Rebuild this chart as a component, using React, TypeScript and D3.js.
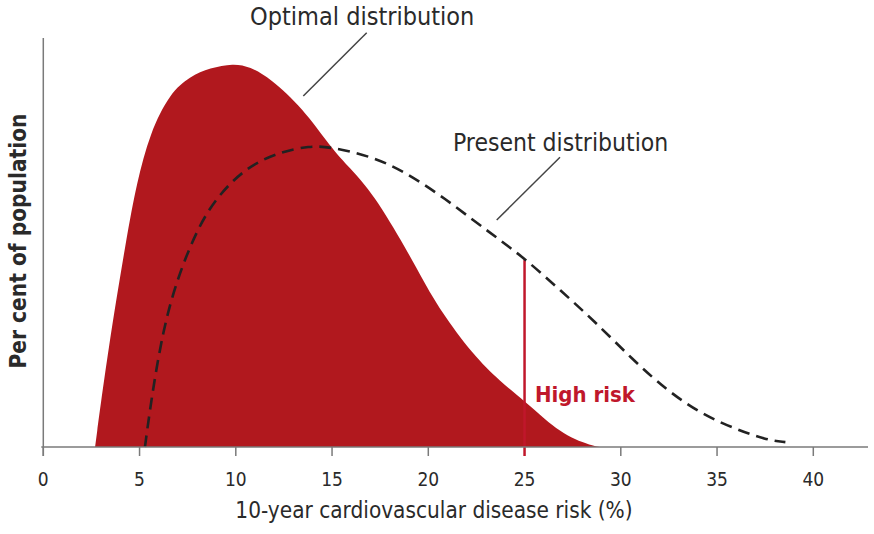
import React from "react";
import * as d3 from "d3";

const xTicks = [0, 5, 10, 15, 20, 25, 30, 35, 40];

// Optimal distribution (filled red)
const optimalX = [2.69, 3.36, 4.33, 4.85, 5.54, 6.58, 7.62, 8.66, 9.87, 10.74, 11.78, 13.49, 14.92, 15.93, 17.13, 18.88, 19.72, 20.61, 22.32, 23.72, 25.11, 26.05, 26.84, 27.62, 28.4, 28.92];
const optimalY = [0, 23.7, 51.4, 64.5, 76.8, 86.5, 90.6, 92.7, 93.8, 93.0, 90.2, 82.8, 73.3, 68.2, 62.0, 48.2, 40.8, 33.5, 22.5, 16.1, 10.8, 6.8, 3.9, 1.8, 0.5, 0];

// Present distribution (dashed)
const presentX = [5.28, 5.63, 6.22, 6.93, 7.97, 9.01, 10.57, 12.3, 13.85, 14.89, 17.13, 18.88, 20.61, 22.33, 23.72, 25.11, 26.84, 28.56, 30.63, 32.38, 34.11, 35.83, 37.58, 38.55];
const presentY = [0, 12.3, 28.6, 40.8, 53.1, 61.2, 68.5, 72.2, 73.6, 73.4, 71.0, 67.0, 61.6, 55.5, 50.6, 45.7, 38.4, 31.1, 21.3, 13.9, 8.3, 4.6, 1.7, 1.2];

const highRiskX = 25;
const highRiskTop = 45.7;

const labels = {
  optimal: "Optimal distribution",
  present: "Present distribution",
  highRisk: "High risk",
  xTitle: "10-year cardiovascular disease risk (%)",
  yTitle: "Per cent of population",
};

const FONT = "'Liberation Sans Narrow', 'DejaVu Sans Condensed', 'Open Sans', sans-serif";
const RED = "#b1181e";

export default function App() {
  const W = 874, H = 534;
  const x = d3.scaleLinear().domain([0, 40]).range([43.3, 813.3]);
  const y = d3.scaleLinear().domain([0, 100]).range([447, 38]);

  const optData = optimalX.map((v, i) => [v, optimalY[i]] as [number, number]);
  const preData = presentX.map((v, i) => [v, presentY[i]] as [number, number]);

  const area = d3
    .area<[number, number]>()
    .x((d) => x(d[0]))
    .y0(y(0))
    .y1((d) => y(d[1]))
    .curve(d3.curveBasis);
  const line = d3
    .line<[number, number]>()
    .x((d) => x(d[0]))
    .y((d) => y(d[1]))
    .curve(d3.curveBasis);

  const axisColor = "#7a7a7a";
  const textColor = "#2a2a2a";

  return (
    <svg
      width={W}
      height={H}
      style={{ position: "absolute", left: 0, top: 0, background: "#fff" }}
      fontFamily={FONT}
    >
      <rect width={W} height={H} fill="#fff" />
      {/* filled optimal distribution */}
      <path d={area(optData) || ""} fill={RED} />

      {/* high risk marker */}
      <line
        x1={x(highRiskX)}
        x2={x(highRiskX)}
        y1={y(highRiskTop)}
        y2={y(0) + 9}
        stroke="#c0172b"
        strokeWidth={2.5}
      />

      {/* dashed present distribution */}
      <path
        d={line(preData) || ""}
        fill="none"
        stroke="#222"
        strokeWidth={2.6}
        strokeDasharray="12,7"
      />

      {/* axes */}
      <line x1={x(0)} x2={x(0)} y1={38} y2={y(0) + 9} stroke={axisColor} strokeWidth={1.5} />
      <line x1={x(0) - 2} x2={868} y1={y(0)} y2={y(0)} stroke={axisColor} strokeWidth={1.5} />
      {xTicks.map((t) => (
        <g key={t}>
          {t !== highRiskX && (
            <line x1={x(t)} x2={x(t)} y1={y(0)} y2={y(0) + 9} stroke={axisColor} strokeWidth={1.5} />
          )}
          <text x={x(t)} y={486} textAnchor="middle" fontSize={19} fill={textColor}>
            {t}
          </text>
        </g>
      ))}

      {/* axis titles */}
      <text x={434} y={518} textAnchor="middle" fontSize={22.4} fill={textColor}>
        {labels.xTitle}
      </text>
      <text
        transform={`translate(26,241) rotate(-90)`}
        textAnchor="middle"
        fontSize={22.5}
        fontWeight={600}
        fill={textColor}
      >
        {labels.yTitle}
      </text>

      {/* annotations */}
      <text x={250} y={25} fontSize={25} fill={textColor}>
        {labels.optimal}
      </text>
      <line x1={366.7} y1={32.7} x2={303.3} y2={96} stroke="#444" strokeWidth={1.5} />

      <text x={453} y={151} fontSize={24.5} fill={textColor}>
        {labels.present}
      </text>
      <line x1={560} y1={157.3} x2={496.7} y2={220} stroke="#444" strokeWidth={1.5} />

      <text x={535} y={402} fontSize={22} fontWeight={600} fill="#c0172b">
        {labels.highRisk}
      </text>
    </svg>
  );
}
